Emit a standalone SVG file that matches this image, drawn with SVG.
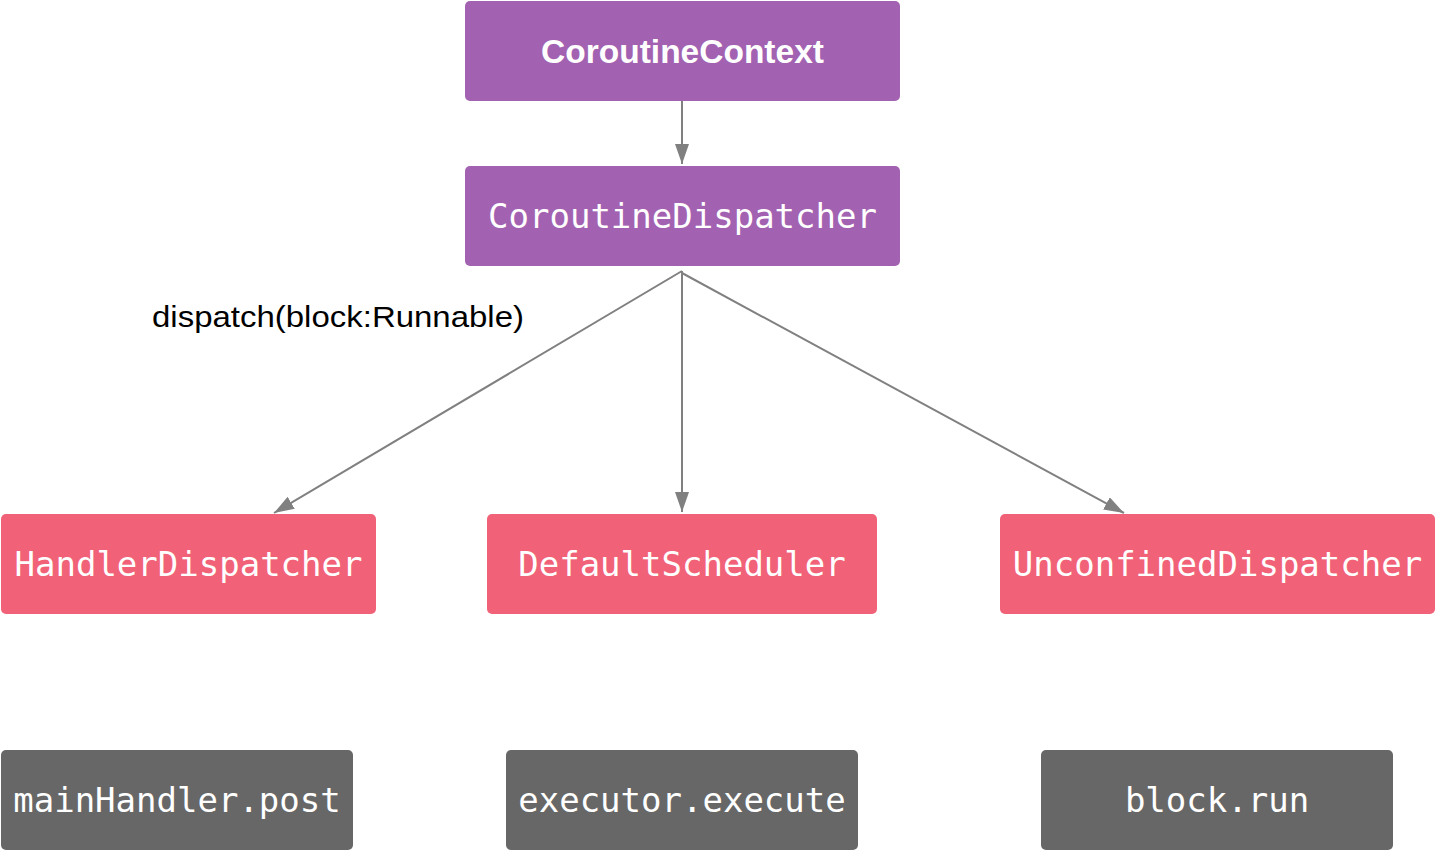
<svg xmlns="http://www.w3.org/2000/svg" width="1436" height="850" viewBox="0 0 1436 850">
<defs>
<style>
.p{fill:#A262B1}
.r{fill:#F16177}
.g{fill:#676767}
.mono{font-family:"DejaVu Sans Mono","Liberation Mono",monospace;font-size:34px;fill:#fff;text-anchor:middle}
.bold{font-family:"Liberation Sans",Arial,sans-serif;font-size:33.5px;font-weight:bold;fill:#fff;text-anchor:middle}
.lbl{font-family:"Liberation Sans",Arial,sans-serif;font-size:29px;fill:#000}
.c{stroke:#808080;stroke-width:2;fill:none}
</style>
<marker id="ah" viewBox="0 0 20 14" refX="20" refY="7" markerWidth="20" markerHeight="14" markerUnits="userSpaceOnUse" orient="auto">
<path d="M0,0 L20,7 L0,14 Z" fill="#808080"/>
</marker>
</defs>
<rect width="1436" height="850" fill="#fff"/>
<g id="connectors">
<line class="c" x1="682" y1="101" x2="682" y2="164" marker-end="url(#ah)"/>
<line class="c" x1="682" y1="271" x2="274" y2="513" marker-end="url(#ah)"/>
<line class="c" x1="682" y1="271" x2="682" y2="512" marker-end="url(#ah)"/>
<line class="c" x1="682" y1="273" x2="1124" y2="513" marker-end="url(#ah)"/>
<text class="lbl" x="152" y="327" textLength="372" lengthAdjust="spacingAndGlyphs">dispatch(block:Runnable)</text>
</g>
<g id="coroutineContext">
<rect class="p" x="465" y="1" width="435" height="100" rx="5"/>
<text class="bold" x="682.5" y="63">CoroutineContext</text>
</g>
<g id="coroutineDispatcher">
<rect class="p" x="465" y="166" width="435" height="100" rx="5"/>
<text class="mono" x="682.5" y="228">CoroutineDispatcher</text>
</g>
<g id="handlerDispatcher">
<rect class="r" x="1" y="514" width="375" height="100" rx="5"/>
<text class="mono" x="188.5" y="576">HandlerDispatcher</text>
</g>
<g id="defaultScheduler">
<rect class="r" x="487" y="514" width="390" height="100" rx="5"/>
<text class="mono" x="682" y="576">DefaultScheduler</text>
</g>
<g id="unconfinedDispatcher">
<rect class="r" x="1000" y="514" width="435" height="100" rx="5"/>
<text class="mono" x="1217.5" y="576">UnconfinedDispatcher</text>
</g>
<g id="mainHandlerPost">
<rect class="g" x="1" y="750" width="352" height="100" rx="5"/>
<text class="mono" x="177" y="812">mainHandler.post</text>
</g>
<g id="executorExecute">
<rect class="g" x="506" y="750" width="352" height="100" rx="5"/>
<text class="mono" x="682" y="812">executor.execute</text>
</g>
<g id="blockRun">
<rect class="g" x="1041" y="750" width="352" height="100" rx="5"/>
<text class="mono" x="1217" y="812">block.run</text>
</g>
</svg>
